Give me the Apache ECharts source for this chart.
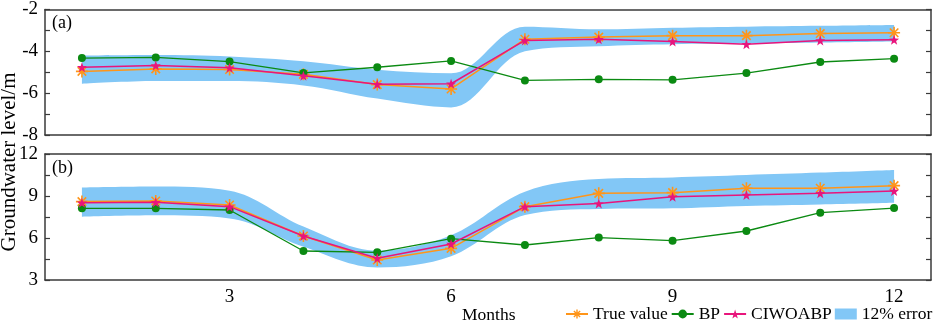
<!DOCTYPE html>
<html>
  <head>
    <title></title>
    <meta charset="UTF-8" />
    <script src="https://cdn.jsdelivr.net/npm/echarts@6/dist/echarts.min.js"></script>
  </head>
  <body style="margin: 0">
    <div id="main"></div>
    <script>
      const width = 934;
      const height = 323;
      const main = document.getElementById('main');
      main.style.width = `${width}px`;
      main.style.height = `${height}px`;

      const months = ['1', '2', '3', '4', '5', '6', '7', '8', '9', '10', '11', '12'];

      // panel (a)
      const trueA = [-4.96, -4.84, -4.87, -5.1, -5.59, -5.8, -3.42, -3.32, -3.25, -3.25, -3.15, -3.11];
      const bpA = [-4.32, -4.29, -4.49, -5.03, -4.76, -4.46, -5.39, -5.34, -5.36, -5.04, -4.51, -4.35];
      const ciwoaA = [-4.76, -4.68, -4.79, -5.17, -5.57, -5.55, -3.48, -3.42, -3.53, -3.66, -3.48, -3.45];
      const bandTopA = [-4.21, -4.18, -4.25, -4.48, -4.88, -5.05, -2.82, -2.95, -2.87, -2.82, -2.78, -2.74];
      const bandLowA = [-5.55, -5.42, -5.42, -5.63, -6.26, -6.68, -4.0, -3.76, -3.66, -3.63, -3.58, -3.53];

      // panel (b)
      const trueB = [8.6, 8.64, 8.36, 6.14, 4.43, 5.26, 8.24, 9.19, 9.24, 9.55, 9.55, 9.74];
      const bpB = [8.12, 8.12, 8.0, 5.07, 4.98, 5.95, 5.5, 6.03, 5.81, 6.5, 7.81, 8.14];
      const ciwoaB = [8.52, 8.55, 8.24, 6.14, 4.55, 5.57, 8.24, 8.46, 8.95, 9.07, 9.19, 9.36];
      const bandTopB = [9.6, 9.67, 9.38, 6.82, 5.1, 6.2, 9.31, 10.22, 10.33, 10.5, 10.67, 10.86];
      const bandLowB = [7.52, 7.62, 7.4, 5.38, 3.9, 4.7, 7.64, 8.08, 8.12, 8.29, 8.4, 8.52];

      const xLabelsShown = ['3', '6', '9', '12'];
      const yLabelsA = [-8, -6, -4, -2];
      const yLabelsB = [3, 6, 9, 12];

      const font = 'Liberation Serif';
      const cOrange = '#ff9519';
      const cGreen = '#0b8a12';
      const cPink = '#e8157c';
      const cBand = '#82c7f6';
      const axisColor = '#3a3a3a';

      const asterisk = 'path://M0,-10L0,10M-10,0L10,0M-7.07,-7.07L7.07,7.07M-7.07,7.07L7.07,-7.07';
      const star = 'path://M0,-10L2.35,-3.24L9.51,-3.09L3.8,1.24L5.88,8.09L0,4L-5.88,8.09L-3.8,1.24L-9.51,-3.09L-2.35,-3.24Z';

      function xAxisCfg(grid, pos, showLabel) {
        return {
          type: 'category',
          gridIndex: grid,
          position: pos,
          data: months,
          boundaryGap: true,
          axisLine: { lineStyle: { color: axisColor, width: 1.5 } },
          axisTick: {
            inside: true,
            alignWithLabel: true,
            interval: 0,
            length: 6,
            lineStyle: { color: axisColor, width: 1.2 },
          },
          axisLabel: {
            show: showLabel,
            interval: (i, v) => xLabelsShown.indexOf(v) >= 0,
            fontFamily: font,
            fontSize: 19,
            color: '#000',
            margin: 8,
          },
          splitLine: { show: false },
        };
      }

      function yAxisCfg(grid, pos, min, max, step, shown, showLabel) {
        return {
          type: 'value',
          gridIndex: grid,
          position: pos,
          min: min,
          max: max,
          interval: step,
          axisLine: { show: true, lineStyle: { color: axisColor, width: 1.5 } },
          axisTick: {
            show: true,
            inside: true,
            length: 5,
            lineStyle: { color: axisColor, width: 1.2 },
          },
          axisLabel: {
            show: showLabel,
            formatter: (v) => (shown.indexOf(v) >= 0 ? String(v) : ''),
            fontFamily: font,
            fontSize: 19,
            color: '#000',
            margin: 7,
          },
          splitLine: { show: false },
        };
      }

      function diff(top, low) {
        return top.map((v, i) => +(v - low[i]).toFixed(3));
      }

      function panelSeries(g, tv, bp, ci, top, low) {
        const stackId = 'band' + g;
        return [
          {
            name: 'low' + g,
            type: 'line',
            xAxisIndex: g * 2,
            yAxisIndex: g * 2,
            data: low,
            stack: stackId,
            stackStrategy: 'all',
            smooth: 0.35,
            symbol: 'none',
            lineStyle: { opacity: 0 },
            z: 1,
          },
          {
            name: '12% error',
            type: 'line',
            xAxisIndex: g * 2,
            yAxisIndex: g * 2,
            data: diff(top, low),
            stack: stackId,
            stackStrategy: 'all',
            smooth: 0.35,
            symbol: 'none',
            itemStyle: { color: cBand },
            lineStyle: { width: 0, opacity: 0 },
            areaStyle: { color: cBand, opacity: 1 },
            z: 1,
          },
          {
            name: 'True value',
            type: 'line',
            xAxisIndex: g * 2,
            yAxisIndex: g * 2,
            data: tv,
            symbol: asterisk,
            symbolSize: 12,
            showAllSymbol: true,
            itemStyle: { color: cOrange, borderColor: cOrange, borderWidth: 1.6 },
            lineStyle: { color: cOrange, width: 1.5 },
            z: 3,
          },
          {
            name: 'BP',
            type: 'line',
            xAxisIndex: g * 2,
            yAxisIndex: g * 2,
            data: bp,
            symbol: 'circle',
            symbolSize: 8,
            showAllSymbol: true,
            itemStyle: { color: cGreen },
            lineStyle: { color: cGreen, width: 1.3 },
            z: 4,
          },
          {
            name: 'CIWOABP',
            type: 'line',
            xAxisIndex: g * 2,
            yAxisIndex: g * 2,
            data: ci,
            symbol: star,
            symbolSize: 10,
            showAllSymbol: true,
            itemStyle: { color: cPink },
            lineStyle: { color: cPink, width: 1.5 },
            z: 5,
          },
        ];
      }

      const myChart = echarts.init(main);
      const option = {
        animation: false,
        grid: [
          { left: 45, right: 3, top: 8, height: 127 },
          { left: 45, right: 3, top: 154, height: 126 },
        ],
        xAxis: [
          xAxisCfg(0, 'bottom', false),
          xAxisCfg(0, 'top', false),
          xAxisCfg(1, 'bottom', true),
          xAxisCfg(1, 'top', false),
        ],
        yAxis: [
          yAxisCfg(0, 'left', -8, -2, 1, yLabelsA, true),
          yAxisCfg(0, 'right', -8, -2, 1, yLabelsA, false),
          yAxisCfg(1, 'left', 3, 12, 1.5, yLabelsB, true),
          yAxisCfg(1, 'right', 3, 12, 1.5, yLabelsB, false),
        ],
        legend: {
          left: 565,
          top: 305,
          width: 400,
          itemWidth: 22,
          itemHeight: 11,
          itemGap: 3,
          padding: 0,
          textStyle: { fontFamily: font, fontSize: 17.5, color: '#000' },
          data: [
            { name: 'True value', itemStyle: { borderWidth: 1.4 } },
            'BP',
            'CIWOABP',
            { name: '12% error', icon: 'rect' },
          ],
        },
        graphic: [
          {
            type: 'text',
            left: 52,
            top: 14,
            style: { text: '(a)', fontFamily: font, fontSize: 18, fill: '#000' },
          },
          {
            type: 'text',
            left: 52,
            top: 159,
            style: { text: '(b)', fontFamily: font, fontSize: 18, fill: '#000' },
          },
          {
            type: 'text',
            left: 462,
            top: 306,
            style: { text: 'Months', fontFamily: font, fontSize: 17.5, fill: '#000' },
          },
          {
            type: 'text',
            x: 9,
            y: 162,
            rotation: Math.PI / 2,
            style: {
              text: 'Groundwater level/m',
              fontFamily: font,
              fontSize: 21,
              fill: '#000',
              align: 'center',
              verticalAlign: 'middle',
            },
          },
        ],
        series: [
          ...panelSeries(0, trueA, bpA, ciwoaA, bandTopA, bandLowA),
          ...panelSeries(1, trueB, bpB, ciwoaB, bandTopB, bandLowB),
        ],
      };
      myChart.setOption(option);
    </script>
  </body>
</html>
